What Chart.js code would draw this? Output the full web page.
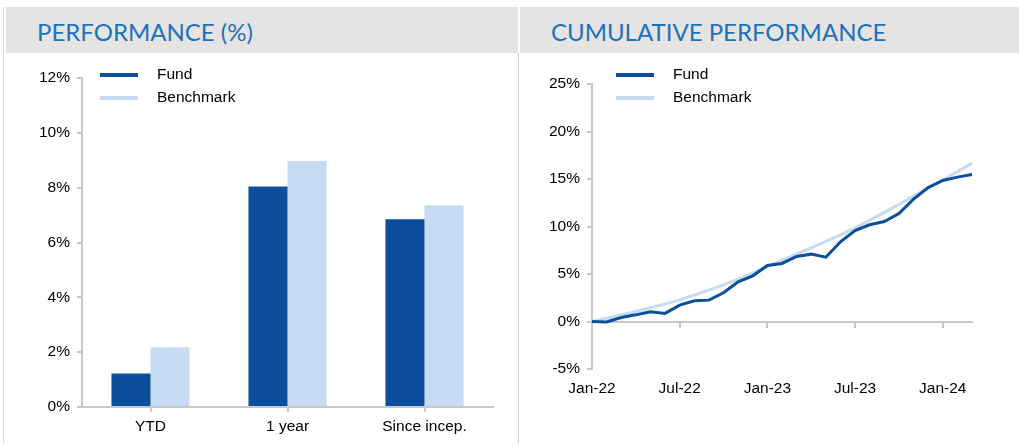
<!DOCTYPE html>
<html lang="en">
<head>
    <meta charset="UTF-8">
    <title>Performance</title>
    <script src="https://cdn.jsdelivr.net/npm/chart.js"></script>
    <style>
        body {
            margin: 0;
            background: #fff;
            font-family: 'Liberation Sans', Arial, sans-serif;
        }
        .page {
            position: relative;
            width: 1019px;
            height: 446px;
            overflow: hidden;
        }
        .header {
            position: absolute;
            top: 7px;
            height: 46px;
            background: #e6e4e2;
        }
        .header span {
            position: absolute;
            left: 31px;
            top: 10px;
            font-family: 'Lato', sans-serif;
            font-weight: 400;
            font-size: 24px;
            color: #1b72bd;
        }
        .vline {
            position: absolute;
            width: 1px;
        }
        canvas {
            position: absolute;
            top: 55px;
        }
        .legend {
            position: absolute;
            top: 64px;
            font-size: 15.5px;
            color: #000;
        }
        .legend div {
            height: 23px;
            position: relative;
            white-space: nowrap;
        }
        .legend i {
            position: absolute;
            left: 0;
            top: 9px;
            width: 38px;
            height: 4px;
        }
        .legend b {
            position: absolute;
            left: 57px;
            top: 1px;
            font-weight: normal;
        }
    </style>
</head>
<body>
<div class="page">
    <div class="vline" style="left:3px; top:7px; height:436px; background:#d9d9d9;"></div>
    <div class="vline" style="left:518px; top:53px; height:390px; background:#d6ccc8;"></div>
    <div class="header" style="left:6px; width:512px;"><span>PERFORMANCE (%)</span></div>
    <div class="header" style="left:520px; width:499px;"><span>CUMULATIVE PERFORMANCE</span></div>

    <canvas id="barChart" width="518" height="390" style="left:0px;"></canvas>
    <canvas id="lineChart" width="499" height="390" style="left:520px;"></canvas>

    <div class="legend" style="left:100px;">
        <div><i style="background:#0b4f9c"></i><b>Fund</b></div>
        <div><i style="background:#c6daf1"></i><b>Benchmark</b></div>
    </div>
    <div class="legend" style="left:616px;">
        <div><i style="background:#0b4f9c"></i><b>Fund</b></div>
        <div><i style="background:#c6daf1"></i><b>Benchmark</b></div>
    </div>
</div>

<script>
    // performance (%) bars
    const barCategories = ['YTD', '1 year', 'Since incep.'];
    const fundBars = [1.22, 8.04, 6.85];
    const benchBars = [2.18, 8.97, 7.36];

    // cumulative performance, monthly
    const months = ['Jan-22', 'Feb-22', 'Mar-22', 'Apr-22', 'May-22', 'Jun-22', 'Jul-22', 'Aug-22', 'Sep-22',
        'Oct-22', 'Nov-22', 'Dec-22', 'Jan-23', 'Feb-23', 'Mar-23', 'Apr-23', 'May-23', 'Jun-23', 'Jul-23',
        'Aug-23', 'Sep-23', 'Oct-23', 'Nov-23', 'Dec-23', 'Jan-24', 'Feb-24', 'Mar-24'];
    const fundCum = [0, -0.05, 0.42, 0.70, 1.02, 0.85, 1.72, 2.18, 2.25, 3.02, 4.18, 4.81, 5.90, 6.11,
        6.85, 7.09, 6.77, 8.39, 9.58, 10.18, 10.53, 11.37, 12.88, 14.10, 14.84, 15.20, 15.47];
    const benchCum = [0, 0.35, 0.70, 1.05, 1.45, 1.85, 2.28, 2.78, 3.30, 3.85, 4.45, 5.10, 5.78, 6.44,
        7.10, 7.76, 8.43, 9.12, 9.85, 10.65, 11.48, 12.33, 13.20, 14.05, 14.90, 15.78, 16.67];

    const fundColor = '#0b4f9c';
    const benchColor = '#c6daf1';
    const axisGray = '#c8c8c8';

    Chart.defaults.font.family = "'Liberation Sans', Arial, sans-serif";
    Chart.defaults.font.size = 15.5;
    Chart.defaults.color = '#000';

    new Chart(document.getElementById('barChart'), {
        type: 'bar',
        data: {
            labels: barCategories,
            datasets: [
                { label: 'Fund', data: fundBars, backgroundColor: fundColor },
                { label: 'Benchmark', data: benchBars, backgroundColor: benchColor }
            ]
        },
        options: {
            responsive: false,
            animation: false,
            layout: { padding: { top: 23, right: 25, left: 0, bottom: 0 } },
            datasets: { bar: { barPercentage: 1, categoryPercentage: 0.57 } },
            plugins: { legend: { display: false }, tooltip: { enabled: false } },
            scales: {
                x: {
                    grid: { offset: false, drawOnChartArea: false, tickLength: 5, color: axisGray, lineWidth: 2 },
                    border: { color: axisGray, width: 2 },
                    ticks: { padding: 5, maxRotation: 0 },
                    afterFit: s => { s.height = 38; }
                },
                y: {
                    min: 0,
                    max: 12,
                    ticks: { stepSize: 2, padding: 7, callback: v => v + '%' },
                    grid: { drawOnChartArea: false, tickLength: 5, color: axisGray, lineWidth: 2 },
                    border: { color: axisGray, width: 2 },
                    afterFit: s => { s.width = 82; }
                }
            }
        }
    });

    new Chart(document.getElementById('lineChart'), {
        type: 'line',
        data: {
            labels: months,
            datasets: [
                { label: 'Fund', data: fundCum, borderColor: fundColor, borderWidth: 3, pointRadius: 0, tension: 0 },
                { label: 'Benchmark', data: benchCum, borderColor: benchColor, borderWidth: 3, pointRadius: 0, tension: 0.3 }
            ]
        },
        options: {
            responsive: false,
            animation: false,
            layout: { padding: { top: 29, right: 47, left: 0, bottom: 0 } },
            plugins: { legend: { display: false }, tooltip: { enabled: false } },
            scales: {
                x: {
                    grid: { display: false, drawTicks: false },
                    border: { display: false },
                    ticks: {
                        autoSkip: false,
                        maxRotation: 0,
                        padding: 10,
                        callback: (v, i) => i % 6 === 0 ? months[i] : ''
                    },
                    afterFit: s => { s.height = 76; }
                },
                xz: {
                    type: 'category',
                    position: { y: 0 },
                    ticks: { display: false },
                    grid: {
                        drawOnChartArea: false,
                        tickLength: 5,
                        lineWidth: 2,
                        color: c => (c.index % 6 === 0 ? axisGray : 'rgba(0,0,0,0)')
                    },
                    border: { color: axisGray, width: 2 }
                },
                y: {
                    min: -5,
                    max: 25,
                    ticks: { stepSize: 5, padding: 7, callback: v => v + '%' },
                    grid: { drawOnChartArea: false, tickLength: 5, color: axisGray, lineWidth: 2 },
                    border: { color: axisGray, width: 2 },
                    afterFit: s => { s.width = 72; }
                }
            }
        }
    });
</script>
</body>
</html>
